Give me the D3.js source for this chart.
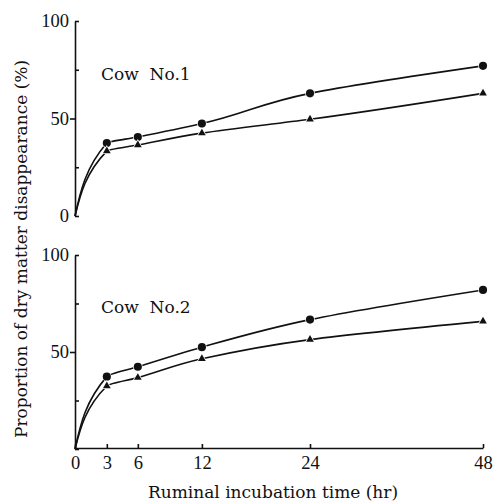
<!DOCTYPE html>
<html>
<head>
<meta charset="utf-8">
<script src="https://cdn.jsdelivr.net/npm/d3@7"></script>
<style>
  body { margin: 0; background: #fff; }
  text { font-family: "DejaVu Serif", serif; fill: #111; }
  .num { font-family: "Liberation Serif", serif; font-size: 18.5px; }
</style>
</head>
<body>
<div id="chart"></div>
<script>
// incubation times (hr) and tick labels
var hours = [3, 6, 12, 24, 48];
var xTicks = [0, 3, 6, 12, 24, 48];
var yLabels = [0, 50, 100];

// cow No.1 (top) and cow No.2 (bottom), % dry matter disappearance
var cow1Circle = [37.4, 40.5, 47.4, 62.9, 77.0];
var cow1Triangle = [33.3, 36.4, 42.5, 49.6, 62.9];
var cow2Circle = [37.3, 42.4, 52.5, 66.7, 82.0];
var cow2Triangle = [32.5, 36.8, 46.5, 56.4, 65.8];

var width = 494, height = 501;
var left = 75, right = 483;

var svg = d3.select("#chart").append("svg")
    .attr("width", width)
    .attr("height", height);

// the printed time axis is not evenly spaced, so use a piecewise scale
var axisFrac = [0, 0.078, 0.154, 0.311, 0.576, 1];
var x = d3.scaleLinear()
    .domain(xTicks)
    .range(axisFrac.map(function(f) { return left + f * (right - left); }));

var panels = [
  { name: "Cow No.1", top: 21, bottom: 216, circle: cow1Circle, tri: cow1Triangle, labels: yLabels },
  { name: "Cow No.2", top: 255, bottom: 449, circle: cow2Circle, tri: cow2Triangle, labels: [50, 100] }
];

// values rise steadily, so a curve monotone in y gives the steep start
var line = d3.line()
    .x(function(d) { return x(d[0]); })
    .curve(d3.curveMonotoneY);

panels.forEach(function(p) {
  var y = d3.scaleLinear().domain([0, 100]).range([p.bottom, p.top]);
  line.y(function(d) { return y(d[1]); });

  var g = svg.append("g");

  // inner ticks + axis line
  g.append("g")
      .attr("transform", "translate(" + left + ",0)")
      .call(d3.axisRight(y).tickValues([0, 25, 75, 100]).tickSizeInner(4).tickSizeOuter(0).tickFormat(""))
      .call(function(a) { a.selectAll("path, line").attr("stroke", "#111").attr("stroke-width", 1.6); });

  // the 50 tick sticks out to the left
  g.append("g")
      .attr("transform", "translate(" + left + ",0)")
      .call(d3.axisLeft(y).tickValues([50]).tickSize(5).tickFormat(""))
      .call(function(a) {
        a.select(".domain").remove();
        a.selectAll("line").attr("stroke", "#111").attr("stroke-width", 1.6);
      });

  // labels
  g.append("g")
      .attr("transform", "translate(" + left + ",0)")
      .call(d3.axisLeft(y).tickValues(p.labels).tickSize(0).tickPadding(6))
      .call(function(a) {
        a.select(".domain").remove();
        a.selectAll("text").attr("class", "num").attr("font-size", null).attr("font-family", null);
      });

  g.append("text")
      .attr("x", 101)
      .attr("y", y(70))
      .attr("font-size", 17)
      .text(p.name.replace(" ", "\u00a0 "));

  [[p.circle, "circle"], [p.tri, "tri"]].forEach(function(s) {
    var pts = [[0, 0]].concat(hours.map(function(h, i) { return [h, s[0][i]]; }));
    g.append("path")
        .attr("d", line(pts))
        .attr("fill", "none")
        .attr("stroke", "#111")
        .attr("stroke-width", 1.6);

    var sym = d3.symbol().type(s[1] == "circle" ? d3.symbolCircle : d3.symbolTriangle)
        .size(s[1] == "circle" ? 52 : 26);
    g.selectAll(null)
        .data(pts.slice(1))
        .enter().append("path")
        .attr("d", sym)
        .attr("transform", function(d) { return "translate(" + x(d[0]) + "," + y(d[1]) + ")"; })
        .attr("fill", "#111")
        .attr("stroke", "#fff")
        .attr("stroke-width", 1.5)
        .attr("paint-order", "stroke");
  });

  if (p.name == "Cow No.2") {
    svg.append("g")
        .attr("transform", "translate(0," + (p.bottom - 1) + ")")
        .call(d3.axisBottom(x).tickValues(xTicks).tickSizeInner(-4).tickSizeOuter(0).tickPadding(8))
        .call(function(a) {
          a.selectAll("path, line").attr("stroke", "#111").attr("stroke-width", 1.6);
          a.selectAll("text").attr("class", "num").attr("font-size", null).attr("font-family", null);
        });
  }
});

svg.append("text")
    .attr("x", 273)
    .attr("y", 498)
    .attr("text-anchor", "middle")
    .attr("font-size", 17)
    .text("Ruminal incubation time (hr)");

svg.append("text")
    .attr("transform", "translate(27,249) rotate(-90)")
    .attr("text-anchor", "middle")
    .attr("font-size", 17)
    .text("Proportion of dry matter disappearance (%)");
</script>
</body>
</html>
